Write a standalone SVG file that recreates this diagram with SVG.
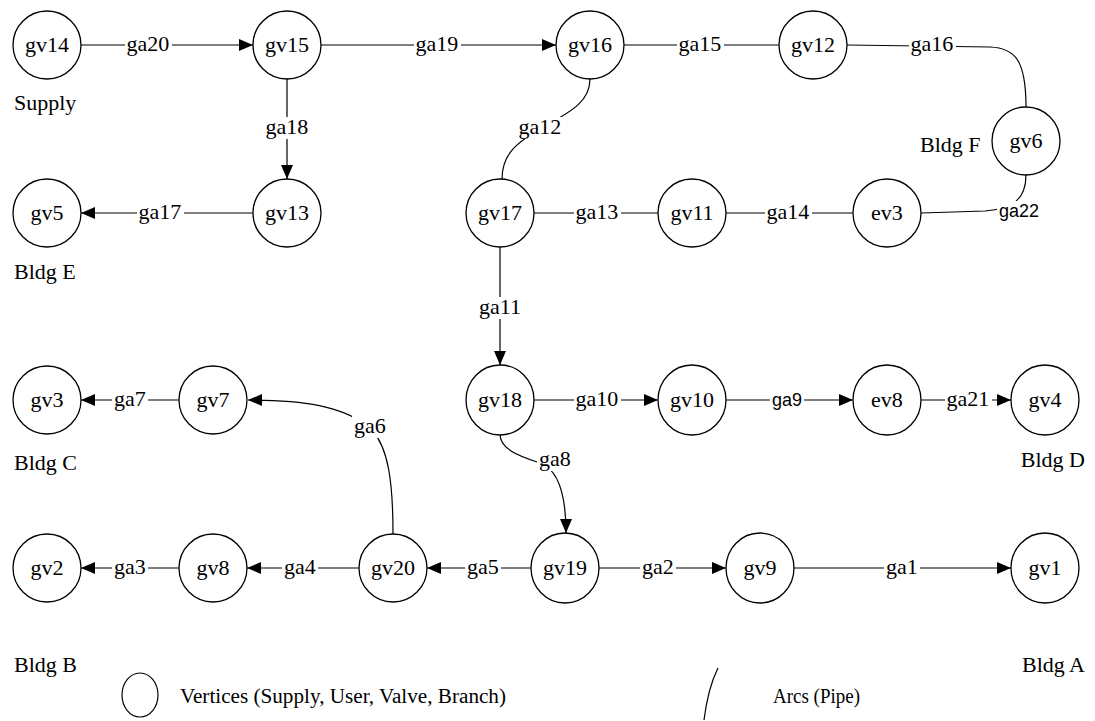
<svg xmlns="http://www.w3.org/2000/svg" width="1095" height="721" viewBox="0 0 1095 721" font-family="'Liberation Serif', 'Times New Roman', serif">
<defs>
<marker id="arr" markerUnits="userSpaceOnUse" markerWidth="16" markerHeight="12" refX="14" refY="6" orient="auto">
<path d="M0,0 L14,6 L0,12 Z" fill="#000"/>
</marker>
<style>
.n ellipse{fill:#fff;stroke:#000;stroke-width:1.3}
text{font-family:'Liberation Serif','Times New Roman',serif;font-size:22px;fill:#000}
.n text{text-anchor:middle}
.e{fill:none;stroke:#000;stroke-width:1.2}
.a{marker-end:url(#arr)}
.l rect{fill:#fff}
.l text{text-anchor:middle}
text.s{font-family:'Liberation Sans',Arial,sans-serif;font-size:18px}
text.lg{font-size:20px}
</style>
</defs>
<rect width="1095" height="721" fill="#fff"/>
<g id="connectors">
<path class="e a" d="M81,45 H253"/>
<path class="e a" d="M321,45 H556"/>
<path class="e" d="M624,45 H779"/>
<path class="e" d="M847,45 L990,47 C1015,48 1026,60 1026,107"/>
<path class="e" d="M1026,175 C1026,200 1012,209 985,211 L921,213"/>
<path class="e a" d="M287,79 V179"/>
<path class="e a" d="M253,213 H81"/>
<path class="e" d="M590,79 C590,102 570,112 545,126 C515,143 502,155 502,179"/>
<path class="e" d="M534,213 H658"/>
<path class="e" d="M726,213 H853"/>
<path class="e a" d="M500,247 V365"/>
<path class="e a" d="M179,400 H81"/>
<path class="e a" d="M393,534 C393,480 388,448 372,430 C345,405 300,400 248,400"/>
<path class="e a" d="M534,400 H658"/>
<path class="e a" d="M726,400 H853"/>
<path class="e a" d="M921,400 H1011"/>
<path class="e a" d="M500,434 C500,448 515,455 540,463 C560,470 566,500 566,533"/>
<path class="e a" d="M531,568 H427"/>
<path class="e a" d="M359,568 H247"/>
<path class="e a" d="M179,568 H81"/>
<path class="e a" d="M599,568 H726"/>
<path class="e a" d="M794,568 H1011"/>
<g class="l"><rect x="125" y="34" width="47" height="22"/><text x="148" y="51">ga20</text></g>
<g class="l"><rect x="414" y="34" width="47" height="22"/><text x="437" y="51">ga19</text></g>
<g class="l"><rect x="677" y="34" width="47" height="22"/><text x="700" y="51">ga15</text></g>
<g class="l"><rect x="909" y="34" width="47" height="22"/><text x="932" y="51">ga16</text></g>
<g class="l"><rect x="997" y="201" width="44" height="20"/><text class="s" x="1019" y="217">ga22</text></g>
<g class="l"><rect x="264" y="117" width="47" height="22"/><text x="287" y="134">ga18</text></g>
<g class="l"><rect x="137" y="202" width="47" height="22"/><text x="160" y="219">ga17</text></g>
<g class="l"><rect x="516" y="117" width="47" height="22"/><text x="540" y="134">ga12</text></g>
<g class="l"><rect x="574" y="202" width="47" height="22"/><text x="597" y="219">ga13</text></g>
<g class="l"><rect x="765" y="202" width="47" height="22"/><text x="788" y="219">ga14</text></g>
<g class="l"><rect x="477" y="297" width="47" height="22"/><text x="500" y="314">ga11</text></g>
<g class="l"><rect x="112" y="389" width="36" height="22"/><text x="130" y="406">ga7</text></g>
<g class="l"><rect x="352" y="416" width="36" height="22"/><text x="370" y="433">ga6</text></g>
<g class="l"><rect x="574" y="389" width="47" height="22"/><text x="597" y="406">ga10</text></g>
<g class="l"><rect x="770" y="390" width="34" height="20"/><text class="s" x="787" y="406">ga9</text></g>
<g class="l"><rect x="945" y="389" width="47" height="22"/><text x="968" y="406">ga21</text></g>
<g class="l"><rect x="537" y="449" width="36" height="22"/><text x="555" y="466">ga8</text></g>
<g class="l"><rect x="465" y="557" width="36" height="22"/><text x="483" y="574">ga5</text></g>
<g class="l"><rect x="282" y="557" width="36" height="22"/><text x="300" y="574">ga4</text></g>
<g class="l"><rect x="112" y="557" width="36" height="22"/><text x="130" y="574">ga3</text></g>
<g class="l"><rect x="640" y="557" width="36" height="22"/><text x="658" y="574">ga2</text></g>
<g class="l"><rect x="884" y="557" width="36" height="22"/><text x="902" y="574">ga1</text></g>
</g>
<g id="gv14" class="n"><ellipse cx="47" cy="45" rx="34" ry="34"/><text x="47" y="52">gv14</text></g>
<g id="gv15" class="n"><ellipse cx="287" cy="45" rx="34" ry="34"/><text x="287" y="52">gv15</text></g>
<g id="gv16" class="n"><ellipse cx="590" cy="45" rx="34" ry="34"/><text x="590" y="52">gv16</text></g>
<g id="gv12" class="n"><ellipse cx="813" cy="45" rx="34" ry="34"/><text x="813" y="52">gv12</text></g>
<g id="gv6" class="n"><ellipse cx="1026" cy="141" rx="34" ry="34"/><text x="1026" y="148">gv6</text></g>
<g id="gv5" class="n"><ellipse cx="47" cy="213" rx="34" ry="34"/><text x="47" y="220">gv5</text></g>
<g id="gv13" class="n"><ellipse cx="287" cy="213" rx="34" ry="34"/><text x="287" y="220">gv13</text></g>
<g id="gv17" class="n"><ellipse cx="500" cy="213" rx="34" ry="34"/><text x="500" y="220">gv17</text></g>
<g id="gv11" class="n"><ellipse cx="692" cy="213" rx="34" ry="34"/><text x="692" y="220">gv11</text></g>
<g id="ev3" class="n"><ellipse cx="887" cy="213" rx="34" ry="34"/><text x="887" y="220">ev3</text></g>
<g id="gv3" class="n"><ellipse cx="47" cy="400" rx="34" ry="34"/><text x="47" y="407">gv3</text></g>
<g id="gv7" class="n"><ellipse cx="213" cy="400" rx="34" ry="34"/><text x="213" y="407">gv7</text></g>
<g id="gv18" class="n"><ellipse cx="500" cy="400" rx="34" ry="35"/><text x="500" y="407">gv18</text></g>
<g id="gv10" class="n"><ellipse cx="692" cy="400" rx="34" ry="35"/><text x="692" y="407">gv10</text></g>
<g id="ev8" class="n"><ellipse cx="887" cy="400" rx="34" ry="35"/><text x="887" y="407">ev8</text></g>
<g id="gv4" class="n"><ellipse cx="1045" cy="400" rx="34" ry="35"/><text x="1045" y="407">gv4</text></g>
<g id="gv2" class="n"><ellipse cx="47" cy="568" rx="34" ry="34"/><text x="47" y="575">gv2</text></g>
<g id="gv8" class="n"><ellipse cx="213" cy="568" rx="34" ry="34"/><text x="213" y="575">gv8</text></g>
<g id="gv20" class="n"><ellipse cx="393" cy="568" rx="34" ry="34"/><text x="393" y="575">gv20</text></g>
<g id="gv19" class="n"><ellipse cx="565" cy="568" rx="34" ry="35"/><text x="565" y="575">gv19</text></g>
<g id="gv9" class="n"><ellipse cx="760" cy="568" rx="34" ry="35"/><text x="760" y="575">gv9</text></g>
<g id="gv1" class="n"><ellipse cx="1045" cy="568" rx="34" ry="35"/><text x="1045" y="575">gv1</text></g>
<g id="annotations">
<text x="14" y="110">Supply</text>
<text x="14" y="279">Bldg E</text>
<text x="920" y="152">Bldg F</text>
<text x="14" y="470">Bldg C</text>
<text x="1085" y="467" text-anchor="end">Bldg D</text>
<text x="14" y="672">Bldg B</text>
<text x="1085" y="672" text-anchor="end">Bldg A</text>
</g>
<g id="legend">
<ellipse cx="140" cy="695" rx="18" ry="22" fill="none" stroke="#000" stroke-width="1.2"/>
<text class="lg" x="180" y="703" textLength="326" lengthAdjust="spacingAndGlyphs">Vertices (Supply, User, Valve, Branch)</text>
<path d="M718,668 Q708,688 704,720" fill="none" stroke="#000" stroke-width="1.2"/>
<text class="lg" x="773" y="703" textLength="87" lengthAdjust="spacingAndGlyphs">Arcs (Pipe)</text>
</g>
</svg>
